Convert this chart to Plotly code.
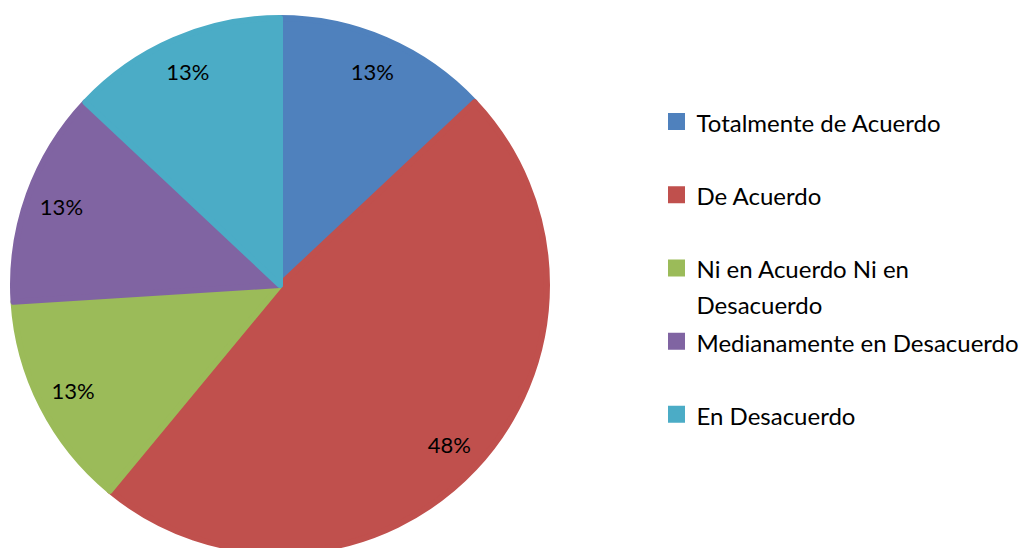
import plotly.graph_objects as go

categories = ["Totalmente de Acuerdo", "De Acuerdo", "Ni en Acuerdo Ni en<br>Desacuerdo",
              "Medianamente en Desacuerdo", "En Desacuerdo"]
values = [13, 48, 13, 13, 13]
colors = ["#4F81BD", "#C0504D", "#9BBB59", "#8064A2", "#4BACC6"]

W, H = 1033, 548
FONT = "Lato"

def legend_label(c):
    n = c.count("<br>") + 1
    pad = "<br>\u00a0" * (2 - n)
    return '<span style="font-size:24px">' + c + '</span>' + pad

labels = [legend_label(c) for c in categories]

# figure-pixel geometry (page shows the figure offset by 8px)
cx, cy, r = 272, 277, 267
dom_x = [(cx - r) / W, (cx + r) / W]
dom_y = [(H - (cy + r)) / H, (H - (cy - r)) / H]

fig = go.Figure()
fig.add_trace(go.Pie(
    labels=labels,
    values=values,
    sort=False,
    direction="clockwise",
    rotation=0,
    marker=dict(colors=colors, line=dict(color=colors, width=6)),
    textinfo="none",
    domain=dict(x=dom_x, y=dom_y),
    hoverinfo="label+percent",
))
# label ring: same data, transparent, places percentages near the rim
fig.add_trace(go.Pie(
    labels=labels,
    values=values,
    sort=False,
    direction="clockwise",
    rotation=0,
    hole=0.74,
    marker=dict(colors=["rgba(0,0,0,0)"] * len(values), line=dict(width=0)),
    texttemplate="%{percent:.0%}",
    textposition="inside",
    insidetextorientation="horizontal",
    textfont=dict(family=FONT, size=22, color="black"),
    domain=dict(x=dom_x, y=dom_y),
    showlegend=False,
    hoverinfo="skip",
))

fig.update_layout(
    width=W, height=H,
    margin=dict(l=0, r=0, t=0, b=0),
    paper_bgcolor="white",
    plot_bgcolor="white",
    font=dict(family=FONT, color="black"),
    showlegend=True,
    legend=dict(
        x=648.5 / W, xanchor="left",
        y=1 - 89.5 / H, yanchor="top",
        valign="top",
        font=dict(family=FONT, size=27, color="black"),
        bgcolor="rgba(0,0,0,0)",
    ),
)

fig.write_html("out.html")
